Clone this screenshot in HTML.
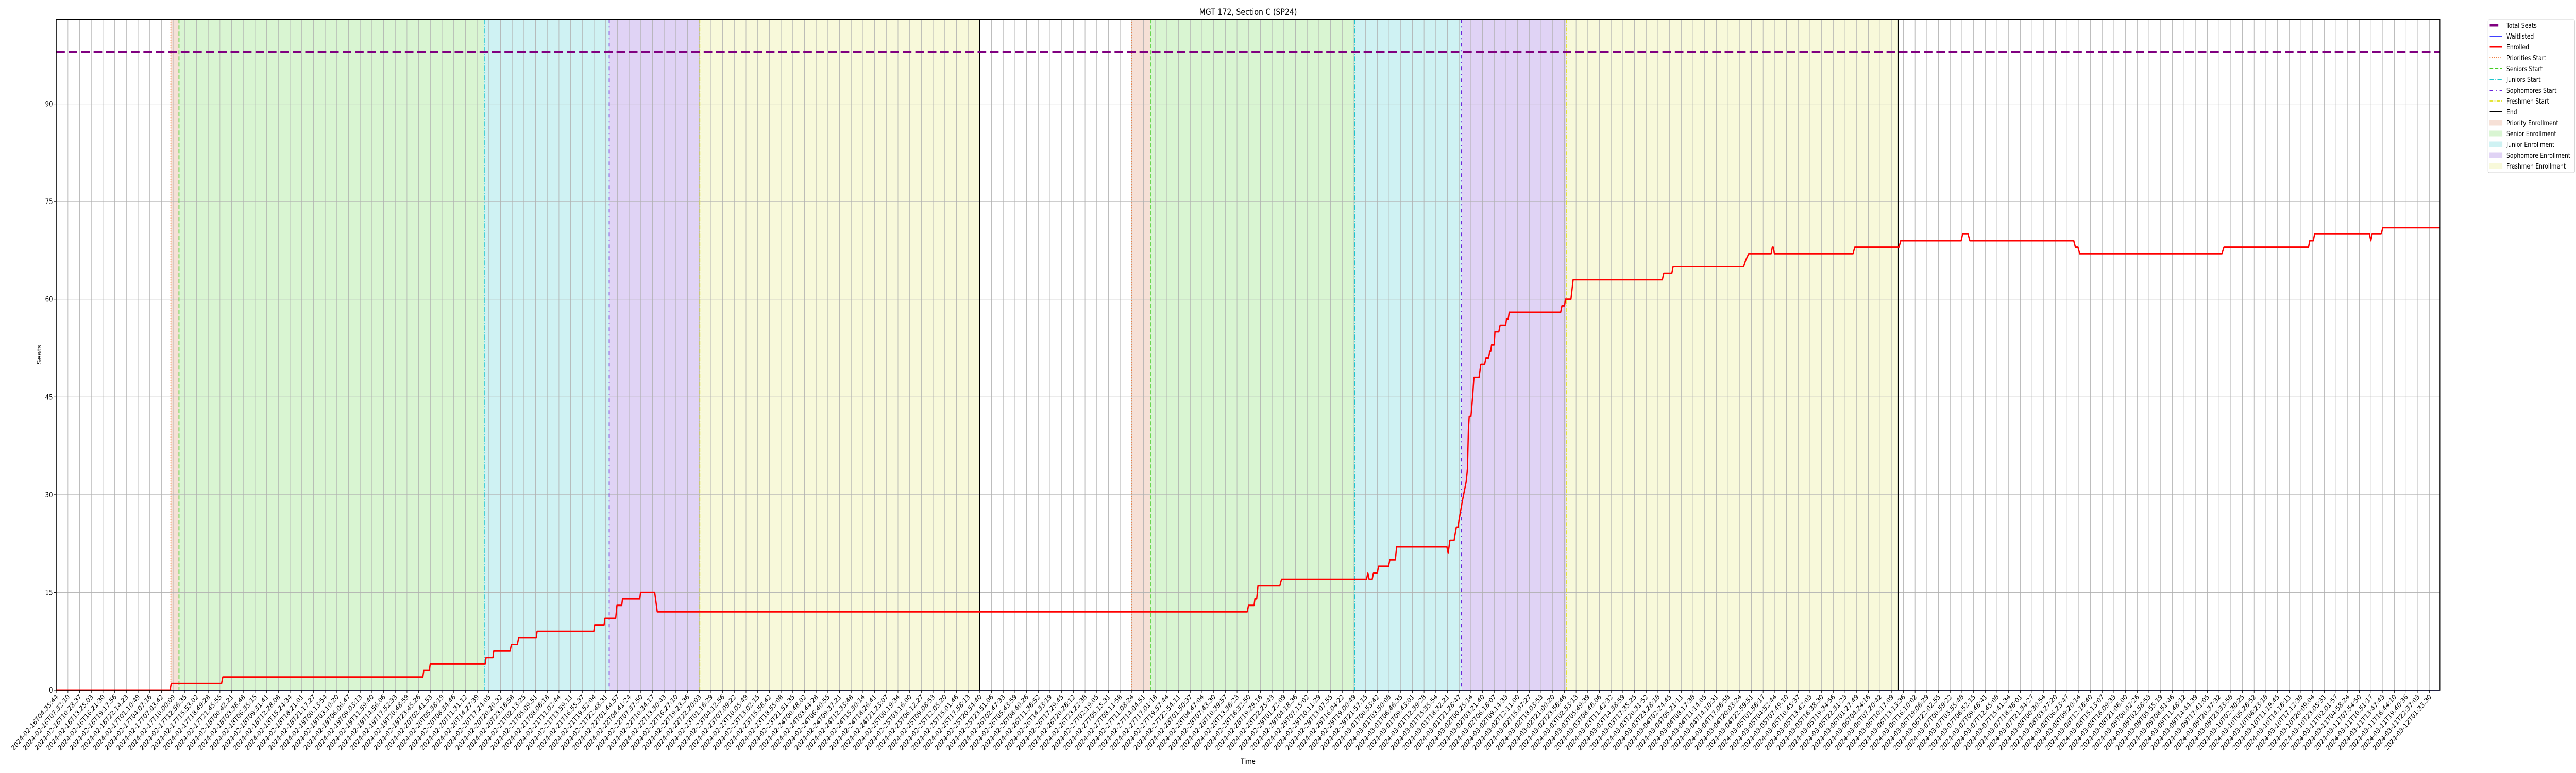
<!DOCTYPE html>
<html><head><meta charset="utf-8"><title>MGT 172, Section C (SP24)</title>
<style>
html,body{margin:0;padding:0;background:#fff;width:100%;height:100%;overflow:hidden;}
svg{display:block;position:absolute;left:0;top:0;width:100vw;height:100vh;font-family:"DejaVu Sans","Liberation Sans",sans-serif;}
</style></head>
<body>
<svg id="chart" viewBox="0 0 6000 1500" preserveAspectRatio="none" xmlns="http://www.w3.org/2000/svg">
<rect x="0" y="0" width="6000" height="1500" fill="#fff"/>
<text x="2907" y="29" font-size="17" text-anchor="middle" fill="#000">MGT 172, Section C (SP24)</text>
<text x="2907" y="1482" font-size="14" text-anchor="middle" fill="#000">Time</text>
<text x="0" y="0" font-size="14" text-anchor="middle" fill="#000" transform="translate(96,688) rotate(-90)">Seats</text>
<g id="bands"></g><g id="grid"></g><g id="events"></g><g id="series"></g><g id="axes"></g>
<g id="legend"></g>
</svg>
<script>
// ---- data (x in sample-index units, y in seats) ----
const totalSeats = 98;
const waitlisted = 0;
const enrolledX = [0,9.73,9.84,14.14,14.25,31.36,31.44,31.91,31.99,36.69,36.76,37.35,37.42,38.82,38.93,39.44,39.55,41.06,41.13,45.98,46.05,46.86,46.93,47.85,47.96,48.37,48.44,49.91,49.98,51.19,51.41,101.87,101.98,102.46,102.53,102.68,102.79,104.66,104.81,112.08,112.19,112.30,112.56,112.67,113.00,113.11,113.96,114.07,114.54,114.65,118.95,119.06,119.21,119.57,119.76,119.90,119.98,120.27,120.60,120.71,120.79,120.86,121.01,121.15,121.26,121.70,121.85,122.18,122.29,122.51,122.62,122.70,122.77,122.99,123.06,123.39,123.50,123.98,124.05,124.20,124.28,128.68,128.79,129.01,129.09,129.56,129.75,137.38,137.50,138.19,138.30,144.33,144.51,144.77,146.68,146.79,146.86,146.97,153.69,153.84,157.62,157.77,162.94,163.06,163.53,163.68,172.57,172.71,172.93,173.08,185.24,185.42,192.65,192.76,193.06,193.17,197.87,197.98,198.09,198.86,199.01,203.89];
const enrolledY = [0,0,1,1,2,2,3,3,4,4,5,5,6,6,7,7,8,8,9,9,10,10,11,11,13,13,14,14,15,15,12,12,13,13,14,14,16,16,17,17,18,17,17,18,18,19,19,20,20,22,22,21,23,23,25,25,26,29,32,34,40,42,42,45,48,48,50,50,51,51,52,52,53,53,55,55,56,56,57,57,58,58,59,59,60,60,63,63,64,64,65,65,66,67,67,68,68,67,67,68,68,69,69,70,70,69,69,68,68,67,67,68,68,69,69,70,70,69,70,70,71,71];
const eventNames = ["Priorities Start","Seniors Start","Juniors Start","Sophomores Start","Freshmen Start","End"];
const cycle1Events = [9.80,10.50,36.61,47.30,55.05,78.98];
const cycle2Events = [91.99,93.59,111.07,120.20,129.18,157.57];
const bandNames = ["Priority Enrollment","Senior Enrollment","Junior Enrollment","Sophomore Enrollment","Freshmen Enrollment"];
const yTicks = [0,15,30,45,60,75,90];
const xDomain = [0,203.89];
const yDomain = [0,103];
const tickCount = 204;
const startTime = "2024-02-16T04:35:44";
const endTime = "2024-03-12T01:33:30";

// ---- styles ----
const eventStyles = [
 {c:"#ee7a3c",d:"2,3",w:2},{c:"#44cc22",d:"8,4",w:2},{c:"#1ec6cc",d:"10,3,2,3",w:2},
 {c:"#6a22dd",d:"7,7,2,7",w:2},{c:"#e4e43a",d:"8,3,2,3",w:2},{c:"#000",d:"",w:2}];
const bandColors = ["#f6e0d6","#d9f5d2","#cff2f3","#e0d3f5","#f8f9da"];

const L=131,R=5683,T=37.3,B=1339;
const X = v => L + (v - xDomain[0]) / (xDomain[1]-xDomain[0]) * (R-L);
const Y = v => B - (v - yDomain[0]) / (yDomain[1]-yDomain[0]) * (B-T);
const NS="http://www.w3.org/2000/svg";
function mk(tag, attrs, parent){const e=document.createElementNS(NS,tag);for(const k in attrs)e.setAttribute(k,attrs[k]);parent.appendChild(e);return e;}
const gB=document.getElementById('bands'),gG=document.getElementById('grid'),gE=document.getElementById('events'),gS=document.getElementById('series'),gA=document.getElementById('axes'),gL=document.getElementById('legend');

// legend (drawn first so it always appears)
mk('rect',{x:5795,y:38,width:202,height:297,rx:3,fill:"#fff",stroke:"#d0d0d0","stroke-width":1},gL);
const legendItems=[
 {n:"Total Seats",t:'line',c:"#800080",w:5,d:""},
 {n:"Waitlisted",t:'line',c:"#0000ff",w:1.5,d:""},
 {n:"Enrolled",t:'line',c:"#ff0000",w:3,d:""},
 {n:"Priorities Start",t:'line',c:eventStyles[0].c,w:2,d:eventStyles[0].d},
 {n:"Seniors Start",t:'line',c:eventStyles[1].c,w:2,d:eventStyles[1].d},
 {n:"Juniors Start",t:'line',c:eventStyles[2].c,w:2,d:eventStyles[2].d},
 {n:"Sophomores Start",t:'line',c:eventStyles[3].c,w:2,d:eventStyles[3].d},
 {n:"Freshmen Start",t:'line',c:eventStyles[4].c,w:2,d:eventStyles[4].d},
 {n:"End",t:'line',c:"#000",w:2,d:""},
 {n:bandNames[0],t:'box',c:bandColors[0]},
 {n:bandNames[1],t:'box',c:bandColors[1]},
 {n:bandNames[2],t:'box',c:bandColors[2]},
 {n:bandNames[3],t:'box',c:bandColors[3]},
 {n:bandNames[4],t:'box',c:bandColors[4]}];
legendItems.forEach((it,i)=>{
  const cy=49+i*21;
  const g=mk('g',{},gL);
  
  
  if(it.t==='line'){
    const x2 = i===0?5819:5828;
    const l=mk('line',{x1:5799,x2:x2,y1:cy,y2:cy,stroke:it.c,"stroke-width":it.w},g);
    if(it.d)l.setAttribute('stroke-dasharray',it.d);
  } else {
    mk('rect',{x:5799,y:cy-5,width:29,height:10,fill:it.c,stroke:it.c,"stroke-width":1},g);
  }
  const t=mk('text',{x:5838,y:cy+5,"font-size":13,fill:"#000"},g);
  t.textContent=it.n;
});

// bands
[cycle1Events,cycle2Events].forEach((ev,ci)=>{
  for(let i=0;i<5;i++){
    const r=mk('rect',{x:X(ev[i]),y:T,width:X(ev[i+1])-X(ev[i]),height:B-T,fill:bandColors[i]},gB);
    
    
  }
});
// grid
for(let i=0;i<tickCount;i++){
  const l=mk('line',{x1:X(i),x2:X(i),y1:T,y2:B,stroke:"#b0b0b0","stroke-width":1},gG);
  
  
}
yTicks.forEach(v=>{
  const l=mk('line',{x1:L,x2:R,y1:Y(v),y2:Y(v),stroke:"#b0b0b0","stroke-width":1},gG);
  
  
});
// event lines
[cycle1Events,cycle2Events].forEach((ev,ci)=>{
  ev.forEach((v,i)=>{
    const s=eventStyles[i];
    const l=mk('line',{x1:X(v),x2:X(v),y1:T,y2:B,stroke:s.c,"stroke-width":s.w},gE);
    if(s.d)l.setAttribute('stroke-dasharray',s.d);
    
    
  });
});
// series
const ts=mk('line',{x1:L,x2:R,y1:Y(totalSeats),y2:Y(totalSeats),stroke:"#800080","stroke-width":5,"stroke-dasharray":"20,9"},gS);


const wl=mk('line',{x1:L,x2:R,y1:Y(waitlisted),y2:Y(waitlisted),stroke:"#0000ff","stroke-width":1.5},gS);


const pts=enrolledX.map((x,i)=>X(x).toFixed(1)+','+Y(enrolledY[i]).toFixed(1)).join(' ');
const en=mk('polyline',{points:pts,fill:"none",stroke:"#ff0000","stroke-width":3,"stroke-linejoin":"round"},gS);


// axes frame
const fr=mk('rect',{x:L,y:T,width:R-L,height:B-T,fill:"none",stroke:"#000","stroke-width":1.5},gA);


yTicks.forEach(v=>{
  mk('line',{x1:L-5,x2:L,y1:Y(v),y2:Y(v),stroke:"#000","stroke-width":1},gA);
  const t=mk('text',{x:L-8,y:Y(v)+5,"font-size":14,"text-anchor":"end",fill:"#000"},gA);
  t.textContent=String(v);
  
  
});
const t0=new Date(startTime+"Z").getTime(), t1=new Date(endTime+"Z").getTime();
const pad=n=>String(n).padStart(2,'0');
for(let i=0;i<tickCount;i++){
  const x=X(i);
  mk('line',{x1:x,x2:x,y1:B,y2:B+5,stroke:"#000","stroke-width":1},gA);
  const d=new Date(t0+(t1-t0)*i/(tickCount-1));
  const s=d.getUTCFullYear()+'-'+pad(d.getUTCMonth()+1)+'-'+pad(d.getUTCDate())+'T'+pad(d.getUTCHours())+':'+pad(d.getUTCMinutes())+':'+pad(d.getUTCSeconds());
  const t=mk('text',{x:0,y:0,"font-size":13.5,"text-anchor":"end",fill:"#000",transform:`translate(${x+5},${B+14}) rotate(-45)`},gA);
  t.textContent=s;
  
  
}
</script>
</body></html>
